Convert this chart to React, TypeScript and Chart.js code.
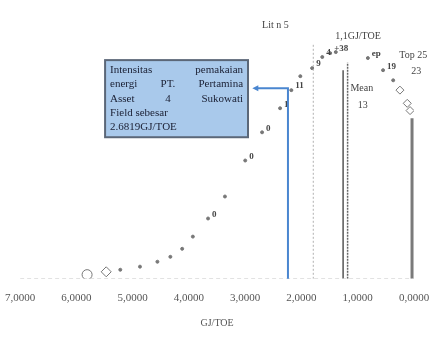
import React, { useEffect, useRef } from "react";
import { Chart, registerables } from "chart.js";

Chart.register(...registerables);

// x = energy intensity (GJ/TOE), y = relative position of curve (0-100)
const curveX = [5.81, 5.47, 5.22, 4.87, 4.56, 4.33, 4.12, 3.93, 3.66, 3.36, 3.0, 2.7, 2.38, 2.18, 2.02, 1.81, 1.63, 1.49, 1.39, 0.82, 0.55, 0.37, 0.25, 0.12, 0.07];
const curveY = [1.6, 2.7, 3.5, 4.7, 6.6, 8.5, 11.6, 16.3, 23.3, 31.8, 45.7, 56.6, 65.9, 72.9, 78.3, 81.4, 85.7, 87.2, 87.6, 85.3, 80.6, 76.7, 72.9, 67.8, 65.0];
const pointTags = ["", "", "", "", "", "", "", "", "0", "", "0", "0", "1", "11", "", "9", "4", "+38", "", "ep", "19", "", "", "", ""];

const xTicks = [7, 6, 5, 4, 3, 2, 1, 0];
const blueLineX = 2.24;
const blueLineTopY = 73.6;
const arrowEndX = 2.82;
const medianX = 1.79;
const medianTop = 91;
const meanX1 = 1.26;
const meanX2 = 1.18;
const meanTop = 80.6;
const topX = 0.035;
const topTop = 62;

const boxLines = ["Intensitas pemakaian", "energi PT. Pertamina", "Asset 4 Sukowati", "Field sebesar", "2.6819GJ/TOE"];
const boxX = [5.49, 2.95];
const boxY = [84.5, 54.7];

const textLabels = [
  { text: "Lit n 5", x: 2.7, y: 98 },
  { text: "1,1GJ/TOE", x: 1.4, y: 93.5 },
  { text: "Mean", x: 1.13, y: 73.5 },
  { text: "13", x: 1.0, y: 67 },
  { text: "Top 25", x: 0.26, y: 86.5 },
  { text: "23", x: 0.05, y: 80 },
];

const annotationPlugin = {
  id: "annots",
  afterDatasetsDraw(chart: any) {
    const { ctx, scales } = chart;
    const xs = scales.x;
    const ys = scales.y;
    ctx.save();
    // point tags
    ctx.font = "bold 9px 'Liberation Serif'";
    ctx.fillStyle = "#444";
    ctx.textBaseline = "middle";
    pointTags.forEach((t, i) => {
      if (!t) return;
      ctx.fillText(t, xs.getPixelForValue(curveX[i]) + 4, ys.getPixelForValue(curveY[i]) - 4);
    });
    // text labels
    ctx.font = "10px 'Liberation Serif'";
    ctx.fillStyle = "#444";
    ctx.textAlign = "left";
    textLabels.forEach((l) => {
      ctx.fillText(l.text, xs.getPixelForValue(l.x), ys.getPixelForValue(l.y));
    });
    // blue connector with arrow
    const bx = xs.getPixelForValue(blueLineX);
    const by = ys.getPixelForValue(blueLineTopY);
    const ax = xs.getPixelForValue(arrowEndX);
    ctx.strokeStyle = "#4a86d0";
    ctx.lineWidth = 2;
    ctx.beginPath();
    ctx.moveTo(bx, ys.getPixelForValue(0));
    ctx.lineTo(bx, by);
    ctx.lineTo(ax, by);
    ctx.stroke();
    ctx.fillStyle = "#4a86d0";
    ctx.beginPath();
    ctx.moveTo(ax - 3, by);
    ctx.lineTo(ax + 3, by - 3);
    ctx.lineTo(ax + 3, by + 3);
    ctx.closePath();
    ctx.fill();
    // box
    const x0 = xs.getPixelForValue(boxX[0]);
    const x1 = xs.getPixelForValue(boxX[1]);
    const y0 = ys.getPixelForValue(boxY[0]);
    const y1 = ys.getPixelForValue(boxY[1]);
    ctx.fillStyle = "#a9c9eb";
    ctx.fillRect(x0, y0, x1 - x0, y1 - y0);
    ctx.strokeStyle = "#5b6778";
    ctx.lineWidth = 2;
    ctx.strokeRect(x0, y0, x1 - x0, y1 - y0);
    ctx.fillStyle = "#1a1f33";
    ctx.font = "11px 'Liberation Serif'";
    ctx.textBaseline = "middle";
    const padX = 5;
    const lh = (y1 - y0 - 6) / boxLines.length;
    boxLines.forEach((line, i) => {
      const ly = y0 + 3 + lh * (i + 0.5);
      const words = line.split(" ");
      if (i < 3 && words.length > 1) {
        const total = words.reduce((s, w) => s + ctx.measureText(w).width, 0);
        const gap = (x1 - x0 - 2 * padX - total) / (words.length - 1);
        let cx = x0 + padX;
        words.forEach((w) => {
          ctx.fillText(w, cx, ly);
          cx += ctx.measureText(w).width + gap;
        });
      } else {
        ctx.fillText(line, x0 + padX, ly);
      }
    });
    ctx.restore();
  },
};

function vline(x: number, top: number, color: string, width: number, dash: number[] = []) {
  return {
    type: "line" as const,
    data: [
      { x, y: 0 },
      { x, y: top },
    ],
    borderColor: color,
    borderWidth: width,
    borderDash: dash,
    pointRadius: 0,
    showLine: true,
  };
}

export default function App() {
  const ref = useRef<HTMLCanvasElement>(null);
  useEffect(() => {
    if (!ref.current) return;
    const pts = curveX.map((x, i) => ({ x, y: curveY[i] }));
    const chart = new Chart(ref.current, {
      type: "scatter",
      data: {
        datasets: [
          {
            type: "line",
            data: [
              { x: 7, y: 0 },
              { x: 0, y: 0 },
            ],
            borderColor: "#c8c8c8",
            borderWidth: 1,
            borderDash: [4, 3],
            pointRadius: 0,
          } as any,
          vline(medianX, medianTop, "#b0b0b0", 1, [2, 2]),
          vline(meanX1, meanTop, "#555", 1.5),
          vline(meanX2, meanTop + 3, "#666", 1.5, [2, 1]),
          vline(topX, topTop, "#7a7a7a", 3),
          {
            type: "scatter",
            data: pts,
            pointRadius: pts.map((_, i) => (i === 0 ? 5 : i === 1 ? 5 : i > 21 ? 4 : 1.5)),
            pointStyle: pts.map((_, i) => (i === 0 ? "circle" : i === 1 || i > 21 ? "rectRot" : "circle")),
            pointBackgroundColor: pts.map((_, i) => (i < 2 || i > 21 ? "rgba(0,0,0,0)" : "#777")),
            pointBorderColor: "#777",
            pointBorderWidth: 1,
          } as any,
        ],
      },
      options: {
        animation: false,
        responsive: false,
        layout: { padding: { left: 18, right: 31, top: 20, bottom: 6 } },
        plugins: { legend: { display: false }, tooltip: { enabled: false } },
        scales: {
          x: {
            type: "linear",
            reverse: true,
            min: 0,
            max: 7,
            afterBuildTicks: (s: any) => {
              s.ticks = xTicks.map((v) => ({ value: v }));
            },
            ticks: {
              color: "#555",
              font: { family: "'Liberation Serif'", size: 11 },
              padding: 5,
              maxRotation: 0,
              callback: (v: any) => Number(v).toFixed(4).replace(".", ","),
            },
            grid: { display: false },
            border: { display: false },
            title: {
              display: true,
              text: "GJ/TOE",
              color: "#555",
              font: { family: "'Liberation Serif'", size: 10 },
              padding: { top: 7 },
            },
          },
          y: { display: false, min: 0, max: 100 },
        },
      },
      plugins: [annotationPlugin],
    });
    return () => chart.destroy();
  }, []);
  return (
    <div style={{ position: "fixed", left: 0, top: 0, width: 429, height: 339, overflow: "hidden", background: "#fff" }}>
      <canvas ref={ref} width={445} height={339} style={{ display: "block" }} />
    </div>
  );
}
